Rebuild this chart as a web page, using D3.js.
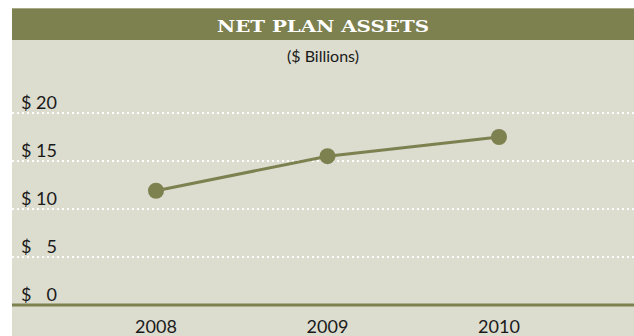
<!DOCTYPE html>
<html>
<head>
<meta charset="utf-8">
<script src="https://cdn.jsdelivr.net/npm/d3@7"></script>
<style>
  html, body { margin: 0; padding: 0; background: #ffffff; }
  svg { display: block; }
</style>
</head>
<body>
<svg id="chart" width="634" height="336"></svg>
<script>
// Net plan assets, $ billions, by year
const years = ["2008", "2009", "2010"];
const assets = [11.9, 15.5, 17.5];
const tickValues = [0, 5, 10, 15, 20];

const W = 634, H = 336;
const panelLeft = 12, headerTop = 8, headerBottom = 40;
const green = "#7d8150";
const panelBg = "#dcdccf";
const sans = "Lato, 'Noto Sans', sans-serif";

const svg = d3.select("#chart");

// panel + header band
svg.append("rect").attr("x", panelLeft).attr("y", headerTop)
  .attr("width", W - panelLeft).attr("height", H - headerTop).attr("fill", panelBg);
svg.append("rect").attr("x", panelLeft).attr("y", headerTop)
  .attr("width", W - panelLeft).attr("height", headerBottom - headerTop).attr("fill", green);
svg.append("line").attr("x1", panelLeft).attr("x2", W)
  .attr("y1", headerTop + 0.5).attr("y2", headerTop + 0.5)
  .attr("stroke", "#a7aa86").attr("stroke-width", 1);

const cx = (panelLeft + W) / 2;
svg.append("text").attr("x", cx).attr("y", 32)
  .attr("text-anchor", "middle")
  .attr("font-family", "'DejaVu Serif', serif")
  .attr("font-weight", "bold").attr("font-size", 17)
  .attr("textLength", 212).attr("lengthAdjust", "spacingAndGlyphs")
  .attr("fill", "#ffffff").text("NET PLAN ASSETS");

svg.append("text").attr("x", cx).attr("y", 62)
  .attr("text-anchor", "middle")
  .attr("font-family", sans)
  .attr("font-size", 16).attr("fill", "#1a1a1a").text("($ Billions)");

// scales
const y = d3.scaleLinear().domain([0, 20]).range([305, 113]);
const x = d3.scalePoint().domain(years).range([156, 499]);

// dotted gridlines (skip zero, which is the baseline)
svg.append("g").selectAll("line")
  .data(tickValues.filter(d => d > 0))
  .join("line")
  .attr("x1", panelLeft).attr("x2", W)
  .attr("y1", d => y(d)).attr("y2", d => y(d))
  .attr("stroke", "#ffffff").attr("stroke-width", 2)
  .attr("stroke-dasharray", "2,3");

// baseline
svg.append("line").attr("x1", panelLeft).attr("x2", W)
  .attr("y1", y(0)).attr("y2", y(0))
  .attr("stroke", green).attr("stroke-width", 3);

// y tick labels: "$" left, number right-aligned
const yl = svg.append("g")
  .attr("font-family", sans)
  .attr("font-size", 18).attr("fill", "#1a1a1a");
yl.selectAll("text.cur").data(tickValues).join("text")
  .attr("class", "cur").attr("x", 21).attr("y", d => y(d) - 4).text("$");
yl.selectAll("text.num").data(tickValues).join("text")
  .attr("class", "num").attr("x", 57).attr("text-anchor", "end")
  .attr("y", d => y(d) - 4).text(d => d);

// x labels
svg.append("g")
  .attr("font-family", sans)
  .attr("font-size", 18).attr("fill", "#1a1a1a")
  .selectAll("text").data(years).join("text")
  .attr("x", d => x(d)).attr("y", 333).attr("text-anchor", "middle").text(d => d);

// series line + markers
const pts = years.map((yr, i) => ({ yr, v: assets[i] }));
svg.append("path").datum(pts)
  .attr("fill", "none").attr("stroke", green).attr("stroke-width", 3)
  .attr("d", d3.line().x(d => x(d.yr)).y(d => y(d.v)));
svg.append("g").selectAll("circle").data(pts).join("circle")
  .attr("cx", d => x(d.yr)).attr("cy", d => y(d.v)).attr("r", 8)
  .attr("fill", green);
</script>
</body>
</html>
